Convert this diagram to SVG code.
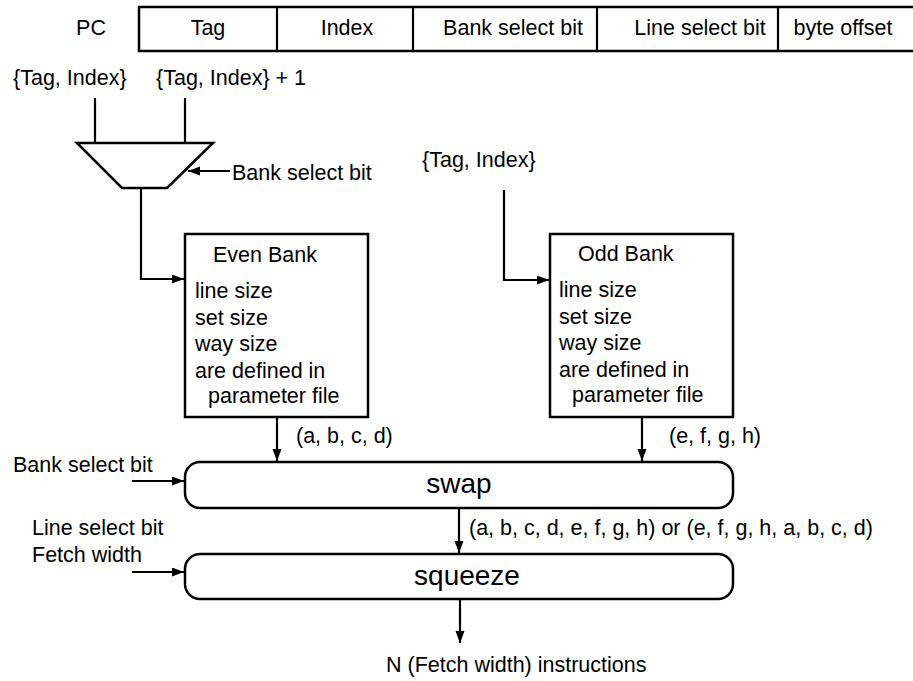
<svg xmlns="http://www.w3.org/2000/svg" width="913" height="681" viewBox="0 0 913 681">
<style>
text{font-family:"Liberation Sans",Arial,sans-serif;font-size:21.5px;fill:#000}
.big{font-size:28px}
.s{fill:none;stroke:#000;stroke-width:2.2}
.box{fill:#fff;stroke:#000;stroke-width:2.5}
.c{text-anchor:middle}
</style>
<defs>
<marker id="ah" markerUnits="userSpaceOnUse" markerWidth="13" markerHeight="10" refX="12" refY="4.5" orient="auto">
<path d="M0,0 L12,4.5 L0,9 z" fill="#000"/>
</marker>
</defs>
<rect width="913" height="681" fill="#fff"/>
<g id="pc">
<text x="91" y="35" class="c">PC</text>
<rect x="139" y="7" width="780" height="44" class="box"/>
<line x1="277" y1="7" x2="277" y2="51" class="s"/>
<line x1="413" y1="7" x2="413" y2="51" class="s"/>
<line x1="597" y1="7" x2="597" y2="51" class="s"/>
<line x1="778" y1="7" x2="778" y2="51" class="s"/>
<text x="208" y="35" class="c">Tag</text>
<text x="347" y="35" class="c">Index</text>
<text x="513" y="35" class="c">Bank select bit</text>
<text x="700" y="35" class="c">Line select bit</text>
<text x="843" y="35" class="c">byte offset</text>
</g>
<g id="labels">
<text x="13" y="85">{Tag, Index}</text>
<text x="156" y="85">{Tag, Index} + 1</text>
<text x="232" y="180">Bank select bit</text>
<text x="422" y="167">{Tag, Index}</text>
<text x="296" y="443">(a, b, c, d)</text>
<text x="669" y="443">(e, f, g, h)</text>
<text x="13" y="472">Bank select bit</text>
<text x="32" y="535">Line select bit</text>
<text x="32" y="562">Fetch width</text>
<text x="469" y="535">(a, b, c, d, e, f, g, h) or (e, f, g, h, a, b, c, d)</text>
<text x="386" y="672">N (Fetch width) instructions</text>
</g>
<g id="mux">
<path d="M77,143 L213,143 L167,188 L122,188 Z" class="box"/>
</g>
<g id="even-bank">
<rect x="185" y="234" width="183" height="183" class="box"/>
<text x="213" y="262">Even Bank</text>
<text x="195" y="298">line size</text>
<text x="195" y="325">set size</text>
<text x="195" y="351">way size</text>
<text x="195" y="378">are defined in</text>
<text x="208" y="403">parameter file</text>
</g>
<g id="odd-bank">
<rect x="550" y="234" width="183" height="183" class="box"/>
<text x="578" y="261">Odd Bank</text>
<text x="559" y="297">line size</text>
<text x="559" y="324">set size</text>
<text x="559" y="350">way size</text>
<text x="559" y="377">are defined in</text>
<text x="572" y="402">parameter file</text>
</g>
<g id="swap">
<rect x="185" y="462" width="548" height="46" rx="15" class="box"/>
<text x="459" y="493" class="c big">swap</text>
</g>
<g id="squeeze">
<rect x="185" y="554" width="548" height="45" rx="15" class="box"/>
<text x="467" y="585" class="c big">squeeze</text>
</g>
<g id="connectors">
<line x1="95" y1="98" x2="95" y2="143" class="s"/>
<line x1="185" y1="98" x2="185" y2="143" class="s"/>
<line x1="230" y1="171" x2="188" y2="171" class="s" marker-end="url(#ah)"/>
<polyline points="141,188 141,279 184,279" class="s" marker-end="url(#ah)"/>
<polyline points="504,190 504,280 549,280" class="s" marker-end="url(#ah)"/>
<line x1="277" y1="417" x2="277" y2="461" class="s" marker-end="url(#ah)"/>
<line x1="642" y1="417" x2="642" y2="461" class="s" marker-end="url(#ah)"/>
<line x1="132" y1="481" x2="184" y2="481" class="s" marker-end="url(#ah)"/>
<line x1="132" y1="572" x2="184" y2="572" class="s" marker-end="url(#ah)"/>
<line x1="459" y1="508" x2="459" y2="553" class="s" marker-end="url(#ah)"/>
<line x1="460" y1="599" x2="460" y2="643" class="s" marker-end="url(#ah)"/>
</g>
</svg>
